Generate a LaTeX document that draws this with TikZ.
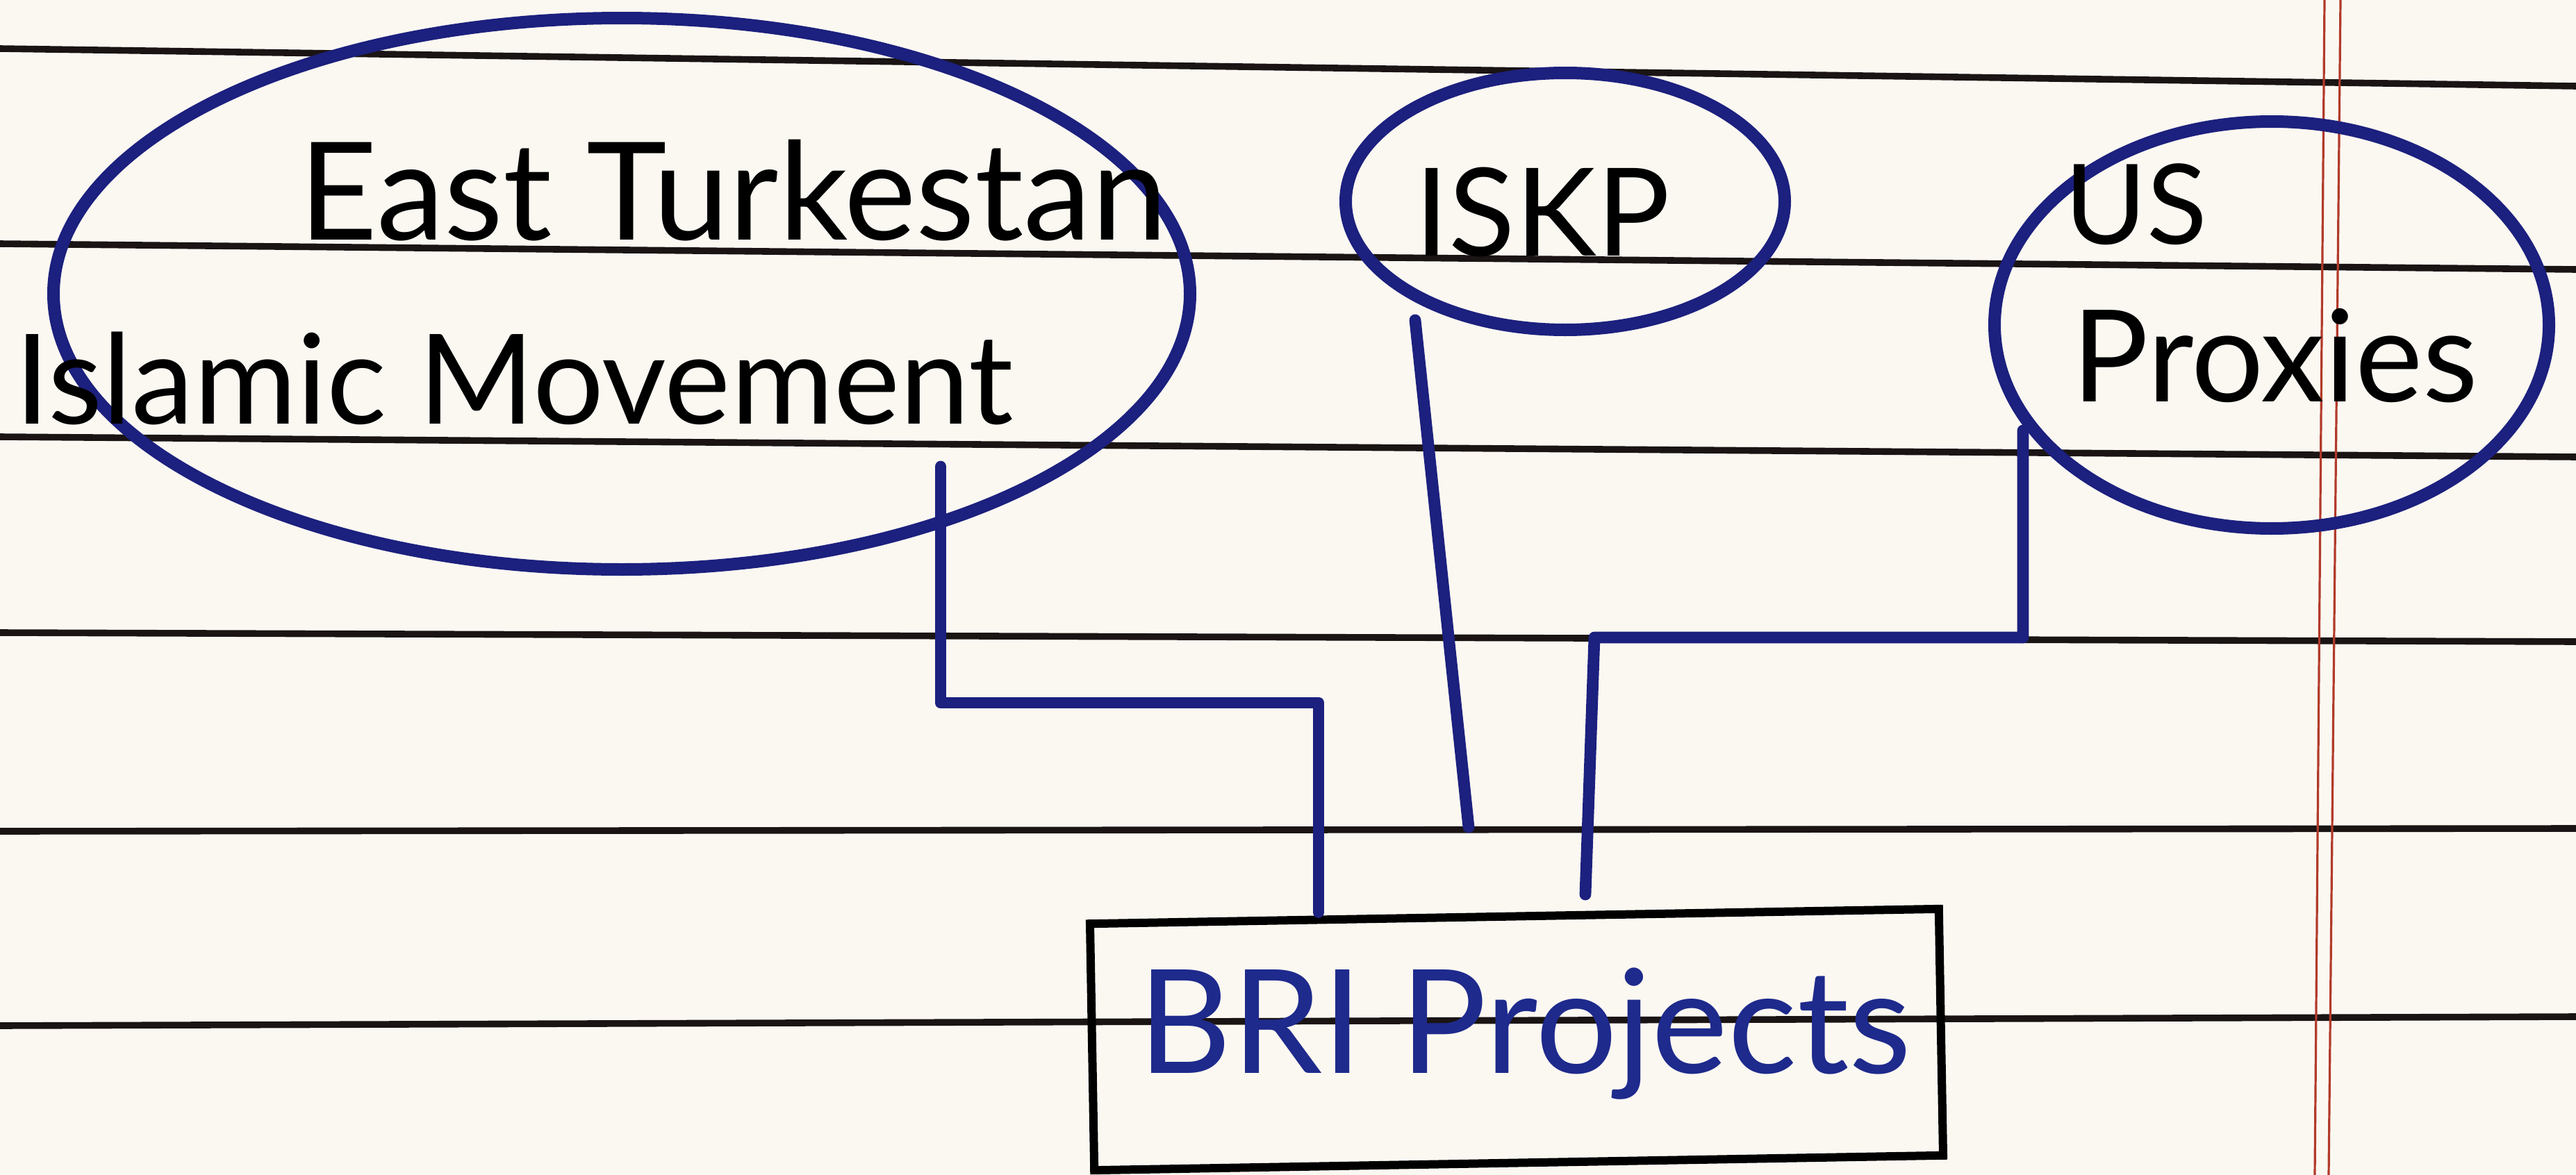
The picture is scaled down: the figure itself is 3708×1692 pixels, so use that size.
\documentclass[tikz,border=0pt]{standalone}
\usepackage{fontspec}
\setmainfont{Lato}
\usetikzlibrary{shapes.geometric,calc}
\definecolor{paper}{HTML}{FBF8F2}
\definecolor{ink}{HTML}{1C207E}
\definecolor{rulecol}{HTML}{1A1414}
\definecolor{margincol}{HTML}{B23A2A}
\definecolor{bluetext}{HTML}{1E2A8C}
\begin{document}
\begin{tikzpicture}[x=0.25pt,y=-0.25pt,
  ruled/.style={draw=rulecol,line width=2.4pt},
  marginline/.style={draw=margincol,line width=0.8pt},
  bubble/.style={ellipse,draw=ink,line width=4.5pt,inner sep=0pt},
  link/.style={draw=ink,line width=4.2pt,line cap=round,line join=round},
  hand/.style={font=\fontsize{44}{48}\selectfont,text=black,inner sep=0pt,anchor=base},
  boxstyle/.style={rectangle,draw=black,line width=3pt,inner sep=0pt}]
% paper
\fill[paper] (0,0) rectangle (3708,1692);
\useasboundingbox (0,0) rectangle (3708,1692);
% ruled lines
\draw[ruled] (0,70) -- (3708,124);
\draw[ruled] (0,351) -- (3708,388);
\draw[ruled] (0,629) -- (3708,658);
\draw[ruled] (0,911) -- (3708,924);
\draw[ruled] (0,1197) -- (3708,1193);
\draw[ruled] (0,1477) -- (3708,1464);
% margin lines
\draw[marginline] (3346,0) -- (3332,1692);
\draw[marginline] (3369,0) -- (3352,1692);
% bubbles
\node[bubble,minimum width=409pt,minimum height=198.5pt] (etim) at (895,423) {};
\node[bubble,minimum width=158pt,minimum height=92.5pt] (iskp) at (2253,290) {};
\node[bubble,minimum width=199.5pt,minimum height=146.5pt] (usp) at (3270,468) {};
% texts
\node[hand,font=\fontsize{49}{53}\selectfont] (t1) at (1055,345) {East Turkestan};
\node[hand,font=\fontsize{45}{49}\selectfont] (t2) at (740,610) {Islamic Movement};
\node[hand] (t3) at (2220,368) {ISKP};
\node[hand,font=\fontsize{40}{44}\selectfont] (t4) at (3075,351) {US};
\node[hand,font=\fontsize{46}{50}\selectfont] (t5) at (3275,578) {Proxies};
% box
\node[boxstyle,minimum width=305.5pt,minimum height=88.75pt,rotate=1] (bri) at (2183,1497) {};
\node[hand,text=bluetext,font=\fontsize{52}{56}\selectfont] (t6) at (2195,1545) {BRI Projects};
% connectors
\coordinate (e1) at (1354,672);
\coordinate (k1) at (1898,1012);
\draw[link] (e1) |- (k1) -- (k1 |- bri.north);
\coordinate (i1) at (2037,461);
\coordinate (i2) at (2114,1191);
\draw[link] (i1) -- (i2);
\coordinate (u1) at (2912,620);
\coordinate (u2) at (2295,918);
\coordinate (u3) at (2282,1288);
\draw[link] (u1) |- (u2) -- (u3);
\end{tikzpicture}
\end{document}
